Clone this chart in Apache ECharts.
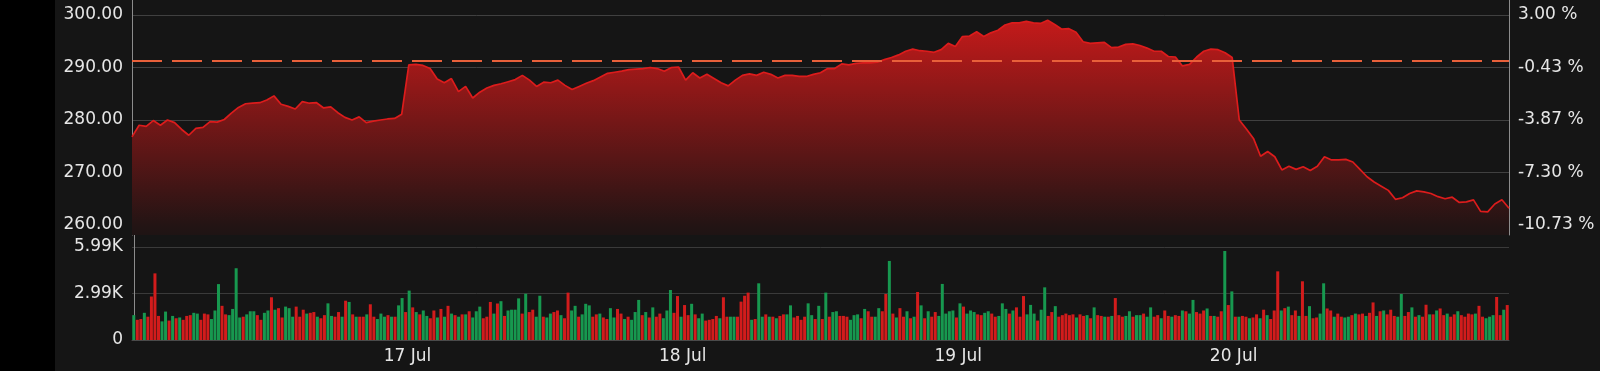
<!DOCTYPE html>
<html><head><meta charset="utf-8">
<script src="https://cdn.jsdelivr.net/npm/echarts@6/dist/echarts.min.js"></script>
<style>
html,body{margin:0;padding:0;background:#151515;}
#chart{position:absolute;left:0;top:0;width:1600px;height:371px;}
#strip{position:absolute;left:0;top:0;width:55px;height:371px;background:#000;}
</style></head><body>
<div id="chart"></div><div id="strip"></div>
<script>
// ---- data ----
const dayLabels = ['17 Jul', '18 Jul', '19 Jul', '20 Jul'];
const tradingDays = 5;
const prevClose = 291.26;
const priceTicks = [260, 270, 280, 290, 300];
const volumeTicks = [0, 2995, 5990];

const priceValues = [
  // 16 Jul
  276.8, 279.0, 278.8, 279.9, 279.0, 280.0, 279.5, 278.2, 277.1, 278.4,
  278.6, 279.7, 279.6, 280.1, 281.3, 282.4, 283.1, 283.2, 283.3, 283.8,
  284.6, 283.0, 282.6, 282.1, 283.5, 283.2, 283.3, 282.3, 282.5, 281.4,
  280.5, 280.0, 280.6, 279.5, 279.8, 280.0, 280.2, 280.3, 281.1,
  // 17 Jul
  290.5, 290.6, 290.4, 289.8, 287.8, 287.1, 287.9, 285.4, 286.4, 284.2,
  285.3, 286.1, 286.6, 286.9, 287.3, 287.7, 288.5, 287.6, 286.4, 287.2,
  287.1, 287.6, 286.6, 285.8, 286.4, 287.0, 287.5, 288.2, 288.9, 289.1,
  289.3, 289.6, 289.7, 289.8, 290.0, 289.8, 289.3, 290.0, 290.1,
  // 18 Jul
  287.6, 289.0, 288.0, 288.7, 287.9, 287.1, 286.5, 287.6, 288.5, 288.8,
  288.5, 289.1, 288.7, 288.0, 288.5, 288.5, 288.3, 288.3, 288.7, 289.0,
  289.8, 289.8, 290.7, 290.5, 290.8, 290.9, 290.9, 291.0, 291.5, 291.9,
  292.4, 293.1, 293.5, 293.2, 293.1, 292.9, 293.4, 294.6, 294.0,
  // 19 Jul
  295.9, 296.0, 296.8, 295.9, 296.6, 297.1, 298.1, 298.5, 298.5, 298.8,
  298.5, 298.4, 299.0, 298.2, 297.3, 297.4, 296.7, 294.9, 294.6, 294.7,
  294.8, 293.8, 293.9, 294.4, 294.5, 294.2, 293.7, 293.1, 293.1, 292.1,
  292.0, 290.3, 290.6, 292.0, 293.1, 293.5, 293.4, 292.8, 291.9,
  // 20 Jul
  280.0, 278.3, 276.5, 273.1, 274.0, 273.0, 270.5, 271.2, 270.6, 271.1,
  270.4, 271.2, 273.0, 272.4, 272.4, 272.5, 272.0, 270.6, 269.2, 268.2,
  267.4, 266.6, 264.9, 265.2, 266.0, 266.5, 266.3, 266.0, 265.4, 265.0,
  265.3, 264.3, 264.4, 264.8, 262.6, 262.5, 264.0, 264.8, 263.2
];

const volumeValues = [
  // 16 Jul
  1600,1300,1350,1750,1500,2800,4290,1550,1200,1830,
  1250,1550,1400,1450,1300,1550,1600,1750,1700,1300,
  1700,1650,1350,1900,3600,2200,1650,1600,2000,4620,
  1450,1500,1650,1850,1850,1600,1300,1750,1900,2750,
  1950,2050,1450,2150,2050,1500,2150,1500,1950,1700,
  1750,1800,1500,1400,1600,2360,1550,1500,1800,1500,
  2530,2450,1650,1500,1500,1500,1650,2300,1500,1350,
  1700,1500,1600,1500,1500,2230,2700,1800,
  // 17 Jul
  3180,2100,1800,1650,1900,1550,1400,1900,1450,2000,
  1500,2200,1700,1600,1500,1650,1650,1850,1450,1850,
  2150,1400,1500,2450,1700,2350,2500,1550,1900,1950,
  1950,2680,1700,2980,1800,1950,1500,2850,1500,1450,
  1700,1800,1900,1600,1400,3050,1900,2200,1500,1650,
  2330,2230,1500,1650,1700,1450,1350,2050,1450,2000,
  1700,1350,1500,1300,1800,2580,1600,1800,1450,2100,
  1500,1700,1400,1900,3220,1750,2830,1500,
  // 18 Jul
  2250,1600,2330,1650,1400,1700,1250,1300,1350,1550,
  1400,2750,1500,1500,1500,1500,2470,2850,3050,1300,
  1350,3650,1500,1650,1500,1500,1400,1550,1650,1650,
  2230,1450,1550,1300,1500,2360,1600,1350,2200,1350,
  3050,1500,1800,1850,1550,1550,1500,1300,1600,1650,
  1400,2000,1850,1500,1500,2050,1850,2960,5090,1700,
  1450,2050,1500,1850,1400,1500,3090,2230,1400,1850,
  1500,1800,1550,3610,1700,1850,1900,1450,
  // 19 Jul
  2360,2150,1700,1900,1800,1650,1600,1750,1850,1700,
  1500,1550,2360,2000,1700,1900,2100,1500,2830,1650,
  2260,1700,1250,1950,3390,1550,1800,2180,1500,1600,
  1700,1600,1650,1450,1650,1550,1600,1400,2100,1600,
  1550,1500,1500,1550,2700,1600,1500,1550,1850,1500,
  1600,1600,1700,1500,2100,1500,1600,1400,1900,1550,
  1500,1600,1550,1900,1850,1700,2580,1800,1700,1900,
  2030,1550,1550,1500,1850,5730,2250,3130,
  // 20 Jul
  1500,1500,1550,1500,1400,1450,1650,1400,1950,1600,
  1350,1900,4420,1900,2050,2150,1600,1900,1550,3780,
  1550,2180,1400,1450,1700,3650,2030,1900,1500,1700,
  1500,1450,1500,1600,1700,1650,1700,1550,1750,2420,
  1550,1850,1900,1650,1950,1550,1500,2960,1550,1800,
  2100,1500,1600,1500,2270,1650,1650,1900,2030,1600,
  1700,1500,1650,1850,1600,1500,1700,1650,1700,2200,
  1500,1400,1500,1600,2770,1600,1950,2250
];

// g = up bar, r = down bar
const volumeSides =
  'grrgrrrrgg' + 'rgrgrrrggr' + 'rrgggrrggg' + 'grgggrrggr' + 'grrgggrrrg' + 'rrgrrggrrg' + 'rgrgrrgrrg' + 'ggrgrggr' +
  'grgrggrrgr' + 'grgrgrgrgg' + 'grrrgrgrgg' + 'ggrgrrggrg' + 'grrgrrggrg' + 'ggrrgrrggr' + 'rgrgggrgrg' + 'rrgggrrg' +
  'rrgrggrrrr' + 'grrggrrrrg' + 'rggrgrgrrg' + 'grrrrggrgr' + 'grggrrrggg' + 'rgrrggrrgr' + 'grrgrgrgrg' + 'rrgggggr' +
  'grgggrrggr' + 'rgggrgrrrg' + 'ggrggrrgrr' + 'rrrgrrgrgr' + 'rgrgrrrggr' + 'ggrggrrgrr' + 'grrgrggrrr' + 'grgrrgrg' +
  'rgrrgrrgrg' + 'rrrgrgrrgr' + 'rgrrggrrgr' + 'rggrgrrgrr' + 'grgrrrggrr' + 'grgrrgrgrr' + 'grrgrrrrgr' + 'rgggrrgr';

// ---- chart ----
const GREEN = '#17984f', RED = '#d21c1c';
const TEXT = '#e6e6e6';
const FONT = 'DejaVu Sans';
const FS = 17;
const perDay = volumeValues.length / tradingDays;
const dayStarts = dayLabels.map((_, k) => (k + 1) * perDay - 0.5);

const chart = echarts.init(document.getElementById('chart'), null, {renderer: 'canvas'});
const option = {
  backgroundColor: '#151515',
  animation: false,
  grid: [
    {left: 132, right: 91, top: 0, height: 235},
    {left: 132, right: 91, top: 235, height: 105}
  ],
  xAxis: [
    {type: 'value', gridIndex: 0, min: 0, max: priceValues.length - 1,
     show: false, splitLine: {show: false}},
    {type: 'value', gridIndex: 1, min: -0.5, max: volumeValues.length - 0.5,
     axisLine: {show: true, lineStyle: {color: '#4a4a4a', width: 1}},
     axisTick: {show: false, customValues: dayStarts},
     splitLine: {show: false},
     axisLabel: {show: true, customValues: dayStarts, color: TEXT, fontFamily: FONT, fontSize: FS, margin: 8,
       formatter: v => {
         const k = Math.round((v + 0.5) / perDay) - 1;
         return dayLabels[k] || '';
       }}}
  ],
  yAxis: [
    {type: 'value', gridIndex: 0, position: 'left', min: 258.1, max: 302.86,
     axisLine: {show: true, lineStyle: {color: '#8c8c8c', width: 1}},
     axisTick: {show: false, customValues: priceTicks},
     axisLabel: {customValues: priceTicks, color: TEXT, fontFamily: FONT, fontSize: FS, margin: 9,
       formatter: v => v.toFixed(2)},
     splitLine: {show: true, lineStyle: {color: '#404040', width: 1}}},
    {type: 'value', gridIndex: 0, position: 'right', min: 258.1, max: 302.86,
     axisLine: {show: true, lineStyle: {color: '#8c8c8c', width: 1}},
     axisTick: {show: false, customValues: priceTicks},
     axisLabel: {customValues: priceTicks, color: TEXT, fontFamily: FONT, fontSize: FS, margin: 9,
       formatter: v => ((v / prevClose - 1) * 100).toFixed(2) + ' %'},
     splitLine: {show: false}},
    {type: 'value', gridIndex: 1, position: 'left', min: 0, max: 6760,
     axisLine: {show: true, lineStyle: {color: '#8c8c8c', width: 1}},
     axisTick: {show: false, customValues: volumeTicks},
     axisLabel: {customValues: volumeTicks, color: TEXT, fontFamily: FONT, fontSize: FS, margin: 9,
       formatter: v => v === 0 ? '0' : (Math.floor(v / 10) / 100).toFixed(2) + 'K'},
     splitLine: {show: true, lineStyle: {color: '#3a3a3a', width: 1}}}
  ],
  series: [
    {
      type: 'line', xAxisIndex: 0, yAxisIndex: 0,
      data: priceValues.map((p, i) => [i, p]),
      showSymbol: false, smooth: false,
      lineStyle: {color: '#dc1c1c', width: 1.7},
      areaStyle: {
        origin: 'start',
        opacity: 1,
        color: new echarts.graphic.LinearGradient(0, 0, 0, 1, [
          {offset: 0, color: 'rgb(196,26,26)'},
          {offset: 0.95, color: 'rgb(36,20,20)'},
          {offset: 1, color: 'rgb(30,20,20)'}
        ])
      },
      markLine: {
        silent: true, symbol: 'none', label: {show: false},
        lineStyle: {color: '#e8603a', width: 2, type: [30, 10]},
        data: [{yAxis: prevClose}]
      },
      z: 3
    },
    {
      type: 'bar', xAxisIndex: 1, yAxisIndex: 2,
      barWidth: 3,
      data: volumeValues.map((v, i) => ({
        value: [i, v],
        itemStyle: {color: volumeSides[i] === 'g' ? GREEN : RED}
      }))
    }
  ]
};
chart.setOption(option);
</script>
</body></html>
